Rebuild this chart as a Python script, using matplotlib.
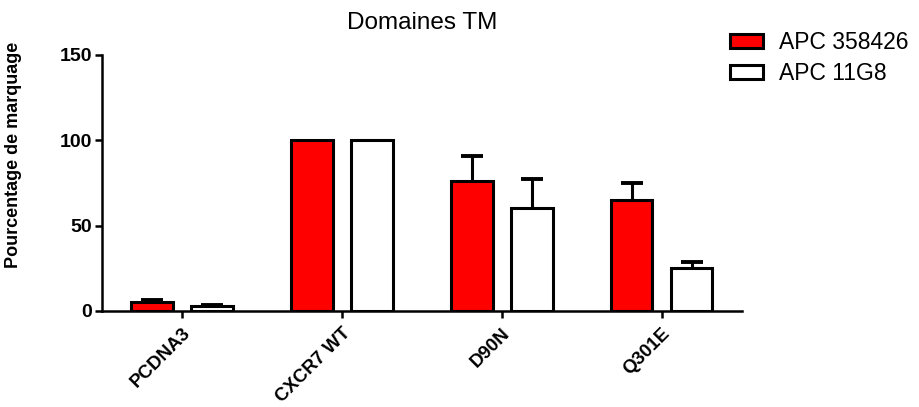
import matplotlib
matplotlib.use("Agg")
import matplotlib.pyplot as plt
import numpy as np

plt.rcParams['font.family'] = ['Liberation Sans', 'DejaVu Sans']

categories = ["PCDNA3", "CXCR7 WT", "D90N", "Q301E"]
series_names = ["APC 358426", "APC 11G8"]
apc_358426 = [5, 100, 76, 65]
apc_358426_err = [1.5, 0, 14.5, 10]
apc_11g8 = [3, 100, 60.5, 25]
apc_11g8_err = [0.5, 0, 17, 3.5]
y_ticks = [0, 50, 100, 150]

fig = plt.figure(figsize=(9.19, 4.07), dpi=100)
ax = fig.add_axes([0.111, 0.236, 0.696, 0.629])

x = np.arange(len(categories))
width = 0.26
offset = 0.1875
lw = 2.2

for vals, errs, dx, color, name in [
    (apc_358426, apc_358426_err, -offset, "#ff0000", series_names[0]),
    (apc_11g8, apc_11g8_err, offset, "white", series_names[1]),
]:
    vals = np.asarray(vals, dtype=float)
    errs = np.asarray(errs, dtype=float)
    has_err = errs > 0
    # upward-only error bars, hidden behind the bar body
    _, caps, _ = ax.errorbar(x[has_err] + dx, vals[has_err],
                             yerr=[np.zeros(has_err.sum()), errs[has_err]],
                             fmt="none", ecolor="black", elinewidth=lw,
                             capsize=8, capthick=lw + 0.6, zorder=1)
    caps[0].set_visible(False)
    ax.bar(x + dx, vals, width=width, color=color, edgecolor="black",
           linewidth=lw, label=name, zorder=2)

ax.set_xlim(-0.5, 3.5)
ax.set_ylim(0, 150)
ax.set_yticks(y_ticks)
ax.set_yticklabels([str(t) for t in y_ticks], fontsize=14, fontweight="bold")
ax.set_xticks(x)
ax.set_xticklabels(categories, rotation=45, ha="right", rotation_mode="anchor",
                   fontsize=13.5, fontweight="bold")
ax.tick_params(axis="y", length=5, width=1.8, pad=2)
ax.tick_params(axis="x", length=5, width=1.8, pad=5)

for s in ["top", "right"]:
    ax.spines[s].set_visible(False)
for s in ["left", "bottom"]:
    ax.spines[s].set_linewidth(1.8)

ax.set_ylabel("Pourcentage de marquage", fontsize=13, fontweight="bold")
ax.yaxis.set_label_coords(-0.125, 0.61)
ax.set_title("Domaines TM", fontsize=17.5, pad=19)

fig.legend(loc="upper left", bbox_to_anchor=(0.772, 0.975), frameon=False,
           fontsize=16.5, handlelength=1.45, handleheight=0.55, labelspacing=0.35,
           handletextpad=0.7)

fig.savefig("out.png", dpi=100)
